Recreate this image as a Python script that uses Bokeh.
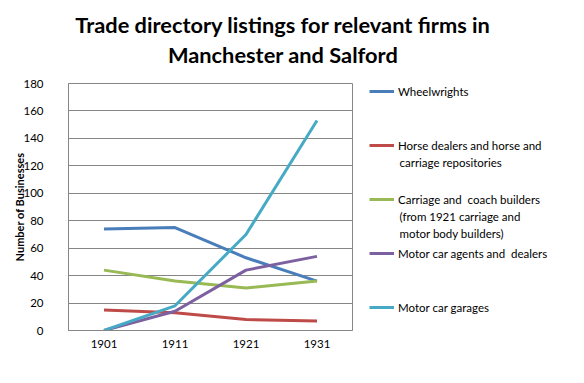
from bokeh.plotting import figure
from bokeh.models import (FactorRange, Range1d, Legend, LegendItem, Label,
                          SingleIntervalTicker)
from bokeh.layouts import column, row
from bokeh.embed import file_html
from bokeh.resources import INLINE

years = ["1901", "1911", "1921", "1931"]
wheelwrights = [74, 75, 53, 36]
horse_dealers = [15, 13, 8, 7]
carriage_builders = [44, 36, 31, 36]
motor_agents = [0, 14, 44, 54]
motor_garages = [0, 18, 70, 153]

title_lines = ["Trade directory listings for relevant firms in", "Manchester and Salford"]
y_label = "Number of Businesses"

# legend texts: first line is the legend entry, the rest wraps below it
series_names = [
    ["Wheelwrights"],
    ["Horse dealers and horse and", "carriage repositories"],
    ["Carriage and  coach builders", "(from 1921 carriage and", "motor body builders)"],
    ["Motor car agents and  dealers"],
    ["Motor car garages"],
]
series_values = [wheelwrights, horse_dealers, carriage_builders, motor_agents, motor_garages]
colors = ["#4A7EBB", "#BE4B48", "#98B954", "#7D60A0", "#46AAC5"]

FONT = "Lato"
W, H = 568, 367
HH = 70                 # header height
MW = 354                # main plot width
LW = W - MW             # legend panel width
MH = H - HH

def bare(fig):
    fig.axis.visible = False
    fig.xgrid.grid_line_color = None
    fig.ygrid.grid_line_color = None
    fig.outline_line_color = None
    fig.min_border = 0
    fig.title = None

# ---- header with the two-line title
head = figure(width=W, height=HH, output_backend="svg", toolbar_location=None,
              x_range=Range1d(0, 1), y_range=Range1d(0, 1))
bare(head)
for txt, base in zip(title_lines, [24, 54]):
    head.add_layout(Label(x=282.6, y=HH - base, x_units="screen", y_units="screen",
                          text=txt, text_font=FONT, text_font_size="21.8px",
                          text_font_style="bold", text_color="#000000",
                          text_align="center", text_baseline="alphabetic"))

# ---- main chart
FL, FR, FT, FB = 68, 352, 13, 260
p = figure(width=MW, height=MH, x_range=FactorRange(*years), y_range=Range1d(0, 180),
           output_backend="svg", toolbar_location=None,
           min_border_left=FL, min_border_right=MW - FR, min_border_top=FT,
           min_border_bottom=MH - FB)
p.title = None
for vals, col in zip(series_values, colors):
    p.line(years, vals, line_color=col, line_width=3)

p.x_range.range_padding = 0
p.yaxis.ticker = SingleIntervalTicker(interval=20)
for ax in (p.xaxis[0], p.yaxis[0]):
    ax.major_tick_line_color = None
    ax.minor_tick_line_color = None
    ax.axis_line_color = "#868686"
    ax.major_label_text_font = FONT
    ax.major_label_text_font_size = "11.5px"
    ax.major_label_text_color = "#000000"
p.yaxis.major_label_standoff = 19
p.xaxis.major_label_standoff = 3
p.yaxis.axis_label = y_label
p.yaxis.axis_label_text_font = FONT
p.yaxis.axis_label_text_font_style = "bold"
p.yaxis.axis_label_text_font_size = "11px"
p.yaxis.axis_label_text_color = "#000000"
p.yaxis.axis_label_standoff = -6
p.xgrid.grid_line_color = None
p.ygrid.grid_line_color = "#868686"
p.outline_line_color = "#868686"

# ---- legend panel (same series, plotted out of view so only the legend shows)
GX = 15           # swatch left edge inside the legend panel
leg = figure(width=LW, height=MH, output_backend="svg", toolbar_location=None,
             x_range=FactorRange(*years), y_range=Range1d(1000, 1100))
bare(leg)
leg.min_border_left = GX
leg.min_border_top = FT
leg.min_border_bottom = MH - FB
swatches = [leg.line(years, vals, line_color=col, line_width=3)
            for vals, col in zip(series_values, colors)]

PITCH = 54
ITEM_H = 16
PAD = 1
GW = 25
STANDOFF = 4
items = [LegendItem(label=n[0], renderers=[r]) for n, r in zip(series_names, swatches)]
legend = Legend(items=items, location="top_left",
                label_height=ITEM_H, spacing=PITCH - ITEM_H,
                glyph_width=GW, glyph_height=ITEM_H, label_standoff=STANDOFF,
                padding=PAD, margin=0, border_line_color=None, background_fill_alpha=0,
                label_text_font=FONT, label_text_font_size="11.5px",
                label_text_color="#000000")
leg.add_layout(legend, "center")

LINE = 16.3
frame_h = FB - FT
for i, lines in enumerate(series_names):
    center = PAD + ITEM_H / 2 + i * PITCH          # from frame top
    for j, line in enumerate(lines[1:], start=1):
        leg.add_layout(Label(x=PAD + GW + STANDOFF, y=frame_h - (center + j * LINE),
                             x_units="screen", y_units="screen", text=line,
                             text_font=FONT, text_font_size="11.5px",
                             text_color="#000000", text_baseline="middle",
                             text_align="left"))

layout = column(head, row(p, leg))
open("out.html", "w").write(file_html(layout, INLINE))
